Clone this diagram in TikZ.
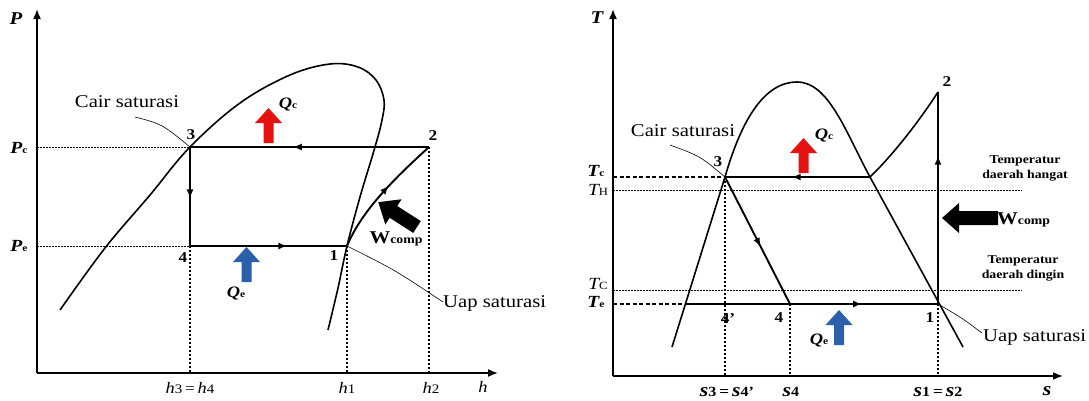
\documentclass[tikz,border=0pt]{standalone}
\usepackage{fontspec}
\setmainfont{Liberation Serif}[FakeStretch=1.15]
\usetikzlibrary{arrows.meta,decorations.markings}
\definecolor{qred}{RGB}{230,18,18}
\definecolor{qblue}{RGB}{44,96,170}
\newcommand{\Wcm}{{\fontsize{18}{20}\selectfont\bfseries W}{\fontsize{12}{14}\selectfont\bfseries comp}}
\newcommand{\Qlab}[1]{{\fontsize{16}{18}\selectfont\bfseries\itshape Q}{\fontsize{10}{12}\selectfont\bfseries #1}}
\newcommand{\Plab}[1]{{\fontsize{17}{18}\selectfont\bfseries\itshape P}{\fontsize{10}{12}\selectfont\bfseries #1}}
\newcommand{\Hl}[1]{{\fontsize{16}{18}\selectfont\itshape h}{\fontsize{13}{15}\selectfont #1}}
\newcommand{\Sl}[1]{{\fontsize{19}{20}\selectfont\bfseries\itshape s}{\fontsize{14}{15}\selectfont\bfseries #1}}
\begin{document}
\begin{tikzpicture}[x=1pt,y=-1pt,
  axis/.style={line width=1.6pt,-{Latex[length=10pt,width=8pt]}},
  cyc/.style={line width=1.9pt},
  dome/.style={line width=1.6pt},
  lead/.style={line width=0.6pt},
  dotv/.style={line width=1.6pt,dash pattern=on 2pt off 2pt},
  dotf/.style={line width=1pt,dash pattern=on 1.5pt off 1.5pt},
  dashl/.style={line width=1.6pt,dash pattern=on 4pt off 2.5pt},
  midarrow/.style={postaction={decorate},decoration={markings,mark=at position #1 with {\arrow{Latex[length=9pt,width=7pt]}}}},
  txt/.style={font=\fontsize{18}{20}\selectfont,inner sep=0pt},
  num/.style={font=\bfseries\fontsize{15}{18}\selectfont,inner sep=0pt},
  smalltxt/.style={font=\bfseries\fontsize{12}{15}\selectfont,align=center,inner sep=0pt},
  axl/.style={inner sep=0pt},
  upblk/.pic={\path[pic actions] (-5,0) -- (-5,-20) -- (-13.5,-20) -- (0,-35) -- (13.5,-20) -- (5,-20) -- (5,0) -- cycle;}
]
\useasboundingbox (0,0) rectangle (1089,400);

% ================= LEFT: P-h diagram =================
\coordinate (lo) at (37,373);
\coordinate (ly) at (37,9);
\coordinate (lx) at (498,373);
\coordinate (p3) at (190,147);
\coordinate (p2) at (429,147);
\coordinate (p4) at (190,246);
\coordinate (p1) at (347,246);
\coordinate (lpc) at (37,147);
\coordinate (lpe) at (37,246);
\coordinate (b4) at (190,373);
\coordinate (b1) at (347,373);
\coordinate (b2) at (429,373);

\draw[axis] (lo) -- (ly);
\draw[axis] (lo) -- (lx);

\draw[dotf] (lpc) -- (p3);
\draw[dotf] (lpe) -- (p4);
\draw[dotv] (p4) -- (b4);
\draw[dotv] (p1) -- (b1);
\draw[dotv] (p2) -- (b2);

\draw[dome] plot[smooth,tension=0.6] coordinates {(60,310) (105,248) (150,195) (190,147) (240,103) (290,75) (330,64) (358,67) (376,80) (384,100) (382,120) (375,147) (360,197) (347,246) (338,288) (328,330)};

\draw[cyc,midarrow=0.57] (p2) -- (p3);
\draw[cyc,midarrow=0.52] (p3) -- (p4);
\draw[cyc,midarrow=0.62] (p4) -- (p1);
\draw[cyc,midarrow=0.57] (p1) .. controls (362,210) and (395,178) .. (p2);

\coordinate (cs1l) at (135,117);
\coordinate (us1l) at (443,302);
\draw[lead] (cs1l) .. controls (162,124) .. (p3);
\draw[lead] (p1) .. controls (395,270) .. (us1l);

\node[txt] (cs1) at (127,102) {Cair saturasi};
\node[txt,anchor=west] (us1) at (443,303) {Uap saturasi};

\node[num] (n3) at (191,135) {3};
\node[num] (n2) at (433,136) {2};
\node[num] (n4) at (183,258) {4};
\node[num] (n1) at (334,256) {1};

\node[axl] (lP) at (16,19) {\fontsize{18}{20}\selectfont\bfseries\itshape P};
\node[axl] (lPc) at (19,148) {\Plab{c}};
\node[axl] (lPe) at (19,246) {\Plab{e}};
\node[axl] (lh) at (483,387) {\fontsize{16}{18}\selectfont\itshape h};
\node[axl] (lh34) at (190,388) {\Hl{3} {\fontsize{15}{16}\selectfont =} \Hl{4}};
\node[axl] (lh1) at (347,388) {\Hl{1}};
\node[axl] (lh2) at (431,388) {\Hl{2}};

\pic[fill=qred] at (268.5,143) {upblk};
\pic[fill=qblue] at (246.5,282) {upblk};
\node[axl] (lqc) at (288,104) {\Qlab{c}};
\node[axl] (lqe) at (236,293) {\Qlab{e}};

\begin{scope}[shift={(417,227)},rotate=147.3]
\fill (0,-7) -- (28,-7) -- (28,-15) -- (46,0) -- (28,15) -- (28,7) -- (0,7) -- cycle;
\end{scope}
\node[axl] (lw) at (396,239) {\Wcm};

% ================= RIGHT: T-s diagram =================
\coordinate (ro) at (613,376);
\coordinate (ry) at (613,9);
\coordinate (rx) at (1063,376);
\coordinate (r3) at (725,177);
\coordinate (r5) at (870,177);
\coordinate (r2) at (938,92);
\coordinate (r1) at (938,304);
\coordinate (r4) at (790,304);
\coordinate (r6) at (685,304);
\coordinate (rtc) at (613,177);
\coordinate (rte) at (613,304);
\coordinate (rth0) at (613,190);
\coordinate (rth1) at (1022,190);
\coordinate (rtC0) at (613,290);
\coordinate (rtC1) at (1022,290);
\coordinate (rb3) at (725,376);
\coordinate (rb4) at (790,376);
\coordinate (rb1) at (938,376);

\draw[axis] (ro) -- (ry);
\draw[axis] (ro) -- (rx);

\draw[dotf] (rth0) -- (rth1);
\draw[dotf] (rtC0) -- (rtC1);
\draw[dashl] (rtc) -- (r3);
\draw[dashl] (rte) -- (r6);
\draw[dotv] (r3) -- (rb3);
\draw[dotv] (r4) -- (rb4);
\draw[dotv] (r1) -- (rb1);

\draw[dome] (672,347) -- (r3) .. controls (742,118) and (765,82) .. (797,82) .. controls (829,82) and (846,133) .. (r5) -- (963,347);
\draw[dome] (r5) .. controls (893,155) and (920,120) .. (r2);

\draw[cyc,midarrow=0.54] (r5) -- (r3);
\draw[cyc,midarrow=0.55] (r3) -- (r4);
\draw[cyc,midarrow=0.70] (r6) -- (r1);
\draw[cyc,midarrow=0.70] (r1) -- (r2);

\coordinate (cs2l) at (670,145);
\coordinate (us2l) at (982,333);
\draw[lead] (cs2l) .. controls (700,156) .. (r3);
\draw[lead] (r1) .. controls (962,318) .. (us2l);

\node[txt] (cs2) at (683,131) {Cair saturasi};
\node[txt,anchor=west] (us2) at (983,337) {Uap saturasi};

\node[num] (m3) at (718,162) {3};
\node[num] (m2) at (947,82) {2};
\node[num] (m4p) at (728,319) {4'};
\node[num] (m4) at (779,318) {4};
\node[num] (m1) at (930,318) {1};

\node[axl] (rT) at (597,18) {\fontsize{18}{20}\selectfont\bfseries\itshape T};
\node[axl] (rTc) at (596,171) {{\fontsize{17}{20}\selectfont\bfseries\itshape T}{\fontsize{10}{12}\selectfont\bfseries c}};
\node[axl] (rTH) at (598,190) {{\fontsize{17}{20}\selectfont\itshape T}{\fontsize{11}{12}\selectfont H}};
\node[axl] (rTC) at (598,284) {{\fontsize{17}{20}\selectfont\itshape T}{\fontsize{11}{12}\selectfont C}};
\node[axl] (rTe) at (596,302) {{\fontsize{17}{20}\selectfont\bfseries\itshape T}{\fontsize{10}{12}\selectfont\bfseries e}};

\node[axl] (rs) at (1047,391) {\fontsize{19}{20}\selectfont\bfseries\itshape s};
\node[axl] (rs34) at (727,392) {\Sl{3} {\fontsize{15}{16}\selectfont\bfseries =} \Sl{4'}};
\node[axl] (rs4) at (791,392) {\Sl{4}};
\node[axl] (rs12) at (938,392) {\Sl{1} {\fontsize{15}{16}\selectfont\bfseries =} \Sl{2}};

\node[smalltxt] (hang) at (1025,168) {Temperatur\\daerah hangat};
\node[smalltxt] (ding) at (1023,268) {Temperatur\\daerah dingin};

\pic[fill=qred] at (803.5,173) {upblk};
\pic[fill=qblue] at (839,345) {upblk};
\node[axl] (rqc) at (824,135) {\Qlab{c}};
\node[axl] (rqe) at (819,340) {\Qlab{e}};

\fill (998,211) -- (959,211) -- (959,203) -- (942,218) -- (959,233) -- (959,225) -- (998,225) -- cycle;
\node[axl,anchor=west] (rw) at (997,220) {\Wcm};
\end{tikzpicture}
\end{document}
